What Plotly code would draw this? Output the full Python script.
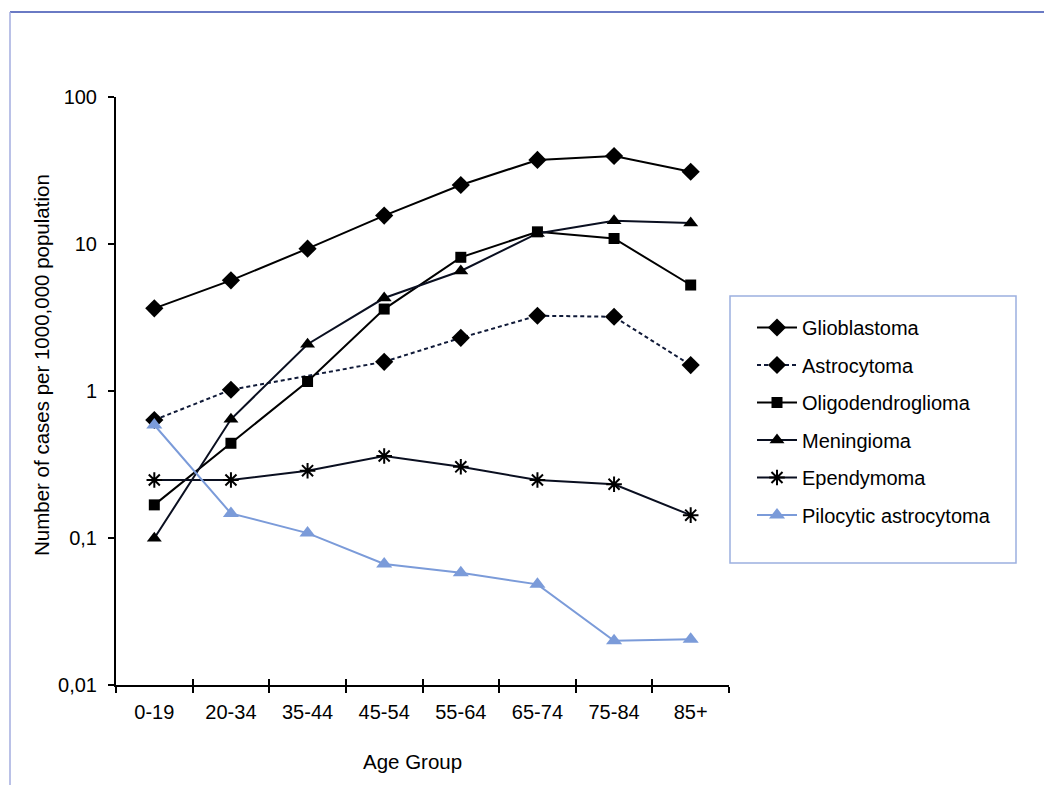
import plotly.graph_objects as go

# ---------------- data ----------------
age_groups = ["0-19", "20-34", "35-44", "45-54", "55-64", "65-74", "75-84", "85+"]

glioblastoma = [3.65, 5.66, 9.3, 15.6, 25.2, 37.3, 39.7, 31.0]
astrocytoma = [0.635, 1.02, None, 1.58, 2.30, 3.25, 3.2, 1.50]
oligodendroglioma = [0.168, 0.441, 1.16, 3.61, 8.12, 12.1, 10.9, 5.26]
meningioma = [0.0995, 0.642, 2.08, 4.29, 6.55, 11.8, 14.4, 13.9]
ependymoma = [0.248, 0.248, 0.287, 0.361, 0.305, 0.248, 0.232, 0.143]
pilocytic = [0.587, 0.147, 0.108, 0.0666, 0.058, 0.0484, 0.020, 0.0205]

y_tickvals = [0.01, 0.1, 1, 10, 100]
y_ticktext = ["0,01", "0,1", "1", "10", "100"]

y_title = "Number of cases per 1000,000 population"
x_title = "Age Group"

# ---------------- layout geometry (page pixels) ----------------
WIN_W, WIN_H = 1052, 785
OFF = 8                                  # default body margin of the html page
W, H = WIN_W - OFF, WIN_H - OFF
PL, PR, PT, PB = 116, 729, 97, 685       # plot area box in page pixels


def px_x(x):
    return (x - PL) / (PR - PL)


def px_y(y):
    return (PB - y) / (PB - PT)


FONT = "Liberation Sans, Arial, sans-serif"
BLACK = "#000000"
LIGHTBLUE = "#7b9bd9"

fig = go.Figure()

series = [
    ("Glioblastoma", glioblastoma, dict(symbol="diamond", size=14, color=BLACK), dict(color=BLACK, width=2)),
    ("Astrocytoma", astrocytoma, dict(symbol="diamond", size=14, color=BLACK), dict(color="#101a38", width=2, dash="4px,3px")),
    ("Oligodendroglioma", oligodendroglioma, dict(symbol="square", size=11, color=BLACK), dict(color=BLACK, width=2)),
    ("Meningioma", meningioma, dict(symbol="triangle-up", size=13, color=BLACK), dict(color="#0a0f20", width=2)),
    ("Ependymoma", ependymoma, dict(symbol="asterisk-open", size=13, color=BLACK, line=dict(width=2, color=BLACK)), dict(color="#0a0f20", width=2)),
    ("Pilocytic astrocytoma", pilocytic, dict(symbol="triangle-up", size=14, color=LIGHTBLUE), dict(color=LIGHTBLUE, width=2)),
]

for name, vals, marker, line in series:
    fig.add_trace(go.Scatter(
        x=age_groups, y=vals, name=name, mode="lines+markers",
        marker=marker, line=line, connectgaps=True, legendgroup=name,
    ))

# helper trace for the inner half of the cross-style x ticks
fig.add_trace(go.Scatter(x=age_groups, y=[None] * len(age_groups), xaxis="x2",
                         mode="lines", showlegend=False, hoverinfo="skip"))

frame_col_top = "#6a7ac4"
frame_col_left = "#a3acdf"

fig.update_layout(
    width=W, height=H,
    margin=dict(l=PL - OFF, r=W - (PR - OFF), t=PT - OFF, b=H - (PB - OFF)),
    paper_bgcolor="white", plot_bgcolor="white",
    font=dict(family=FONT, size=20, color=BLACK),
    showlegend=True,
    legend=dict(
        x=px_x(752), y=px_y(308), xanchor="left", yanchor="top",
        font=dict(family=FONT, size=20, color=BLACK),
        tracegroupgap=8.5, bgcolor="rgba(0,0,0,0)", borderwidth=0,
        itemwidth=40,
    ),
    xaxis=dict(
        type="category", categoryorder="array", categoryarray=age_groups,
        range=[-0.5, len(age_groups) - 0.5],
        showline=True, linecolor=BLACK, linewidth=2,
        ticks="outside", ticklen=6, tickwidth=2, tickcolor=BLACK,
        tickson="boundaries", showgrid=False, zeroline=False,
        tickfont=dict(size=20), ticklabelstandoff=8,
    ),
    xaxis2=dict(
        type="category", categoryorder="array", categoryarray=age_groups,
        range=[-0.5, len(age_groups) - 0.5], overlaying="x", anchor="y",
        side="bottom", showline=False, ticks="inside", ticklen=6, tickwidth=2,
        tickcolor=BLACK, tickson="boundaries", showgrid=False,
        showticklabels=False, zeroline=False,
    ),
    yaxis=dict(
        type="log", range=[-2, 2],
        tickvals=y_tickvals, ticktext=y_ticktext,
        showline=True, linecolor=BLACK, linewidth=2,
        ticks="outside", ticklen=6, tickwidth=2, tickcolor=BLACK,
        showgrid=False, zeroline=False,
        tickfont=dict(size=20), ticklabelstandoff=7,
    ),
    annotations=[
        dict(text=x_title, xref="paper", yref="paper", x=px_x(412), y=px_y(761),
             xanchor="center", yanchor="middle", showarrow=False,
             font=dict(size=20.5)),
        dict(text=y_title, xref="paper", yref="paper", x=px_x(42), y=px_y(365),
             xanchor="center", yanchor="middle", showarrow=False, textangle=-90,
             font=dict(size=20.5)),
    ],
    shapes=[
        # outer frame: top and left edges
        dict(type="line", xref="paper", yref="paper",
             x0=px_x(10), x1=px_x(WIN_W + 20), y0=px_y(12), y1=px_y(12),
             line=dict(color=frame_col_top, width=2), layer="above"),
        dict(type="line", xref="paper", yref="paper",
             x0=px_x(10), x1=px_x(10), y0=px_y(12), y1=px_y(WIN_H + 20),
             line=dict(color=frame_col_left, width=1.5), layer="above"),
        # legend box
        dict(type="rect", xref="paper", yref="paper",
             x0=px_x(730), x1=px_x(1016), y0=px_y(296), y1=px_y(563),
             line=dict(color="#9cb0e0", width=1.5), fillcolor="rgba(0,0,0,0)"),
    ],
)

fig.write_html("out.html")
